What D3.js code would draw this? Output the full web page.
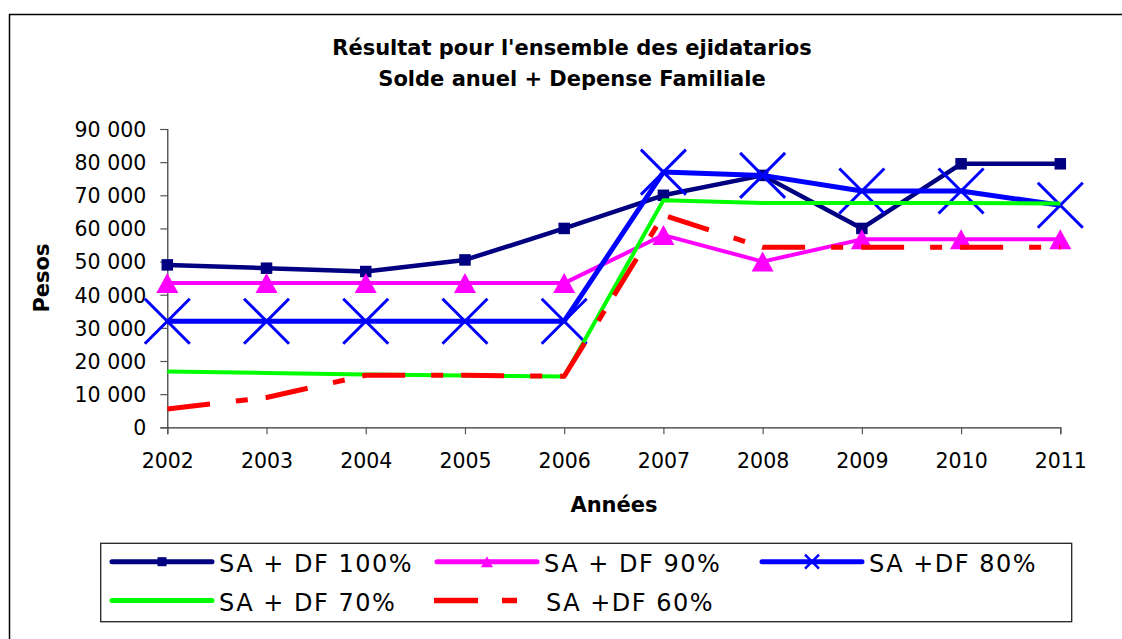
<!DOCTYPE html>
<html>
<head>
<meta charset="utf-8">
<script src="https://cdn.jsdelivr.net/npm/d3@7"></script>
<style>
	body { margin: 0; background: #fff; }
	text { font-family: "DejaVu Sans", sans-serif; fill: #000; }
</style>
</head>
<body>
<div id="chart"></div>
<script>
var years = [2002, 2003, 2004, 2005, 2006, 2007, 2008, 2009, 2010, 2011];
var sa100 = [49000, 48000, 47000, 50500, 60000, 70000, 76000, 60000, 79500, 79500];
var sa90 = [43500, 43500, 43500, 43500, 43500, 58000, 50000, 56700, 56700, 56700];
var sa80 = [32000, 32000, 32000, 32000, 32000, 77000, 76000, 71300, 71300, 67000];
var sa70 = [16800, 16400, 15900, 15600, 15300, 68500, 67700, 67700, 67700, 67500];
var sa60 = [5500, 9000, 15700, 15700, 15400, 64000, 54300, 54300, 54300, 54300];
var yTicks = [0, 10000, 20000, 30000, 40000, 50000, 60000, 70000, 80000, 90000];
var seriesNames = ["SA + DF 100%", "SA + DF 90%", "SA +DF  80%", "SA + DF 70%", "SA +DF 60%"];

var series = [
	{ name: seriesNames[0], values: sa100, color: "#000080", width: 4.5, marker: "square" },
	{ name: seriesNames[1], values: sa90, color: "#ff00ff", width: 4, marker: "triangle" },
	{ name: seriesNames[2], values: sa80, color: "#0000ff", width: 5, marker: "x" },
	{ name: seriesNames[3], values: sa70, color: "#00ff00", width: 4, marker: "none" },
	{ name: seriesNames[4], values: sa60, color: "#ff0000", width: 5, marker: "none", dash: "43,26,12,18" }
];

var svg = d3.select("#chart")
			.append("svg")
			.attr("width", 1122)
			.attr("height", 639);

// outer frame
svg.append("rect")
	.attr("x", 9.5)
	.attr("y", 14.5)
	.attr("width", 1200)
	.attr("height", 700)
	.attr("fill", "none")
	.attr("stroke", "#000")
	.attr("stroke-width", 1.5);

svg.append("text")
	.attr("x", 572)
	.attr("y", 55)
	.attr("text-anchor", "middle")
	.style("font-size", "21px")
	.style("font-weight", "bold")
	.text("Résultat pour l'ensemble des ejidatarios");

svg.append("text")
	.attr("x", 572)
	.attr("y", 86)
	.attr("text-anchor", "middle")
	.style("font-size", "21px")
	.style("font-weight", "bold")
	.text("Solde anuel + Depense Familiale");

var x = d3.scalePoint()
		  .domain(years)
		  .range([167.3, 1060.3]);

var y = d3.scaleLinear()
		  .domain([0, 90000])
		  .range([427.3, 129]);

var fr = d3.formatLocale({ decimal: ",", thousands: " ", grouping: [3], currency: ["", ""] });

var yAxis = svg.append("g")
			   .attr("transform", "translate(167.3,0)")
			   .call(d3.axisLeft(y).tickValues(yTicks).tickSize(7).tickPadding(14).tickFormat(fr.format(",")));

var xAxis = svg.append("g")
			   .attr("transform", "translate(0,427.3)")
			   .call(d3.axisBottom(x).tickSize(7).tickPadding(19));

svg.selectAll(".domain").attr("stroke", "#333").attr("stroke-width", 1.2);
svg.selectAll(".tick line").attr("stroke", "#555").attr("stroke-width", 1.2);
svg.selectAll(".tick text")
	.style("font-family", "DejaVu Sans")
	.style("font-size", "20.5px")
	.attr("fill", "#000");
yAxis.selectAll(".tick text").attr("dy", "0.36em");

svg.append("text")
	.attr("transform", "translate(49,278) rotate(-90)")
	.attr("text-anchor", "middle")
	.style("font-size", "21px")
	.style("font-weight", "bold")
	.text("Pesos");

svg.append("text")
	.attr("x", 614)
	.attr("y", 512)
	.attr("text-anchor", "middle")
	.style("font-size", "21px")
	.style("font-weight", "bold")
	.text("Années");

var line = d3.line()
			 .x(function (d, i) { return x(years[i]); })
			 .y(function (d) { return y(d); });

function drawMarker(g, type, cx, cy, color, big) {
	if (type == "square") {
		var s = big ? 11.5 : 9;
		g.append("rect")
			.attr("x", cx - s / 2)
			.attr("y", cy - s / 2)
			.attr("width", s)
			.attr("height", s)
			.attr("fill", color);
	} else if (type == "triangle") {
		var w = big ? 22 : 12, h = big ? 20 : 11;
		g.append("path")
			.attr("d", "M" + cx + "," + (cy - h / 2) + "L" + (cx + w / 2) + "," + (cy + h / 2) + "L" + (cx - w / 2) + "," + (cy + h / 2) + "Z")
			.attr("fill", color);
	} else if (type == "x") {
		var a = big ? 22.5 : 7;
		g.append("path")
			.attr("d", "M" + (cx - a) + "," + (cy - a) + "L" + (cx + a) + "," + (cy + a) + "M" + (cx - a) + "," + (cy + a) + "L" + (cx + a) + "," + (cy - a))
			.attr("stroke", color)
			.attr("stroke-width", big ? 3 : 2.5)
			.attr("fill", "none");
	}
}

series.forEach(function (s) {
	var g = svg.append("g");
	g.append("path")
		.attr("d", line(s.values))
		.attr("fill", "none")
		.attr("stroke", s.color)
		.attr("stroke-width", s.width)
		.attr("stroke-linejoin", "round")
		.attr("stroke-dasharray", s.dash ? s.dash : null);
	s.values.forEach(function (v, i) {
		drawMarker(g, s.marker, x(years[i]), y(v), s.color, true);
	});
});

// legend
svg.append("rect")
	.attr("x", 100.7)
	.attr("y", 543.3)
	.attr("width", 971)
	.attr("height", 78.4)
	.attr("fill", "#fff")
	.attr("stroke", "#222")
	.attr("stroke-width", 1.3);

var legendPos = [
	{ lx: 112, ly: 561.7 },
	{ lx: 437, ly: 561.7 },
	{ lx: 762, ly: 561.7 },
	{ lx: 112, ly: 600.5 },
	{ lx: 434, ly: 600.5 }
];

series.forEach(function (s, i) {
	var p = legendPos[i];
	var g = svg.append("g");
	g.append("line")
		.attr("x1", p.lx)
		.attr("x2", p.lx + 100)
		.attr("y1", p.ly)
		.attr("y2", p.ly)
		.attr("stroke", s.color)
		.attr("stroke-width", s.dash ? 5.5 : 5)
		.attr("stroke-linecap", s.dash ? "butt" : "round")
		.attr("stroke-dasharray", s.dash ? "44,24,15,40" : null);
	drawMarker(g, s.marker, p.lx + 50, p.ly, s.color, false);
	g.append("text")
		.attr("x", s.dash ? p.lx + 112 : p.lx + 107)
		.attr("y", p.ly + 10.5)
		.style("font-size", "24px")
		.style("letter-spacing", "1.5px")
		.text(s.name);
});
</script>
</body>
</html>
